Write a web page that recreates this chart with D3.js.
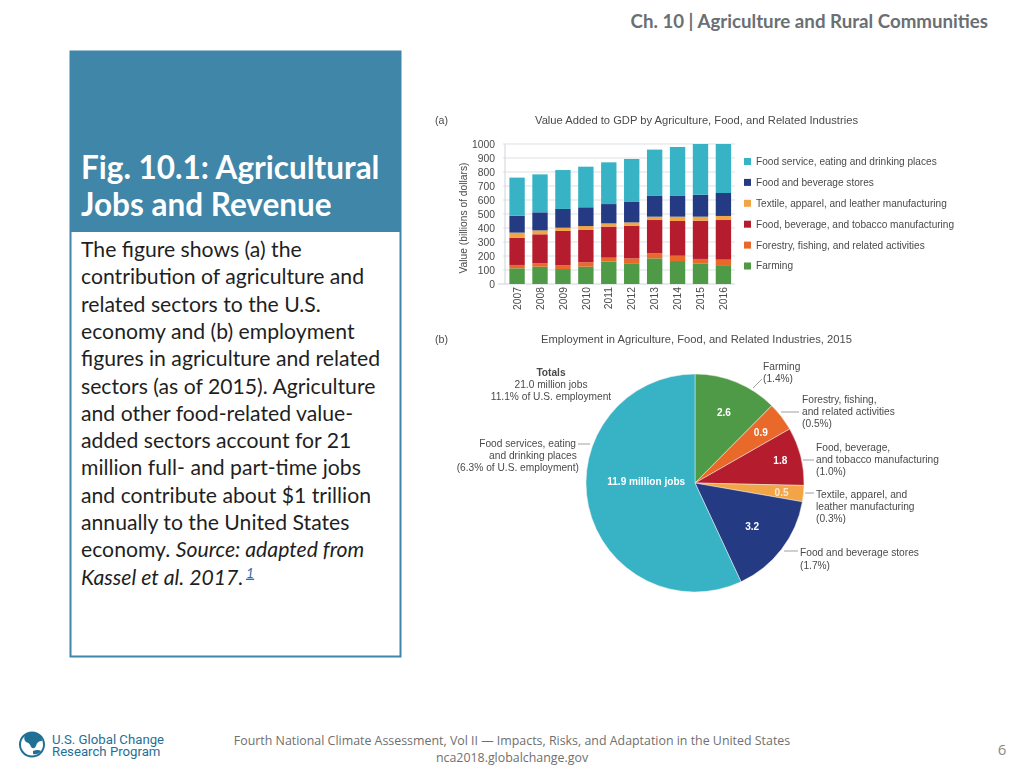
<!DOCTYPE html>
<html><head><meta charset="utf-8">
<script src="https://cdn.jsdelivr.net/npm/d3@7/dist/d3.min.js"></script>
<style>html,body{margin:0;padding:0;background:#fff;overflow:hidden}svg{display:block}
text{font-family:"Liberation Sans",Arial,sans-serif}
.slide text{font-family:Lato,"Open Sans",sans-serif}
.slide text.foot{font-family:"Open Sans",sans-serif}
</style></head><body><svg id="c" width="1024" height="768"></svg>
<script>
const years=["2007","2008","2009","2010","2011","2012","2013","2014","2015","2016"];
const farming=[112,124,107,124,160,148,183,164,145,129];
const forestry=[24,24,26,31,28,35,36,38,34,45];
const foodMfg=[195,207,246,231,222,234,238,248,273,283];
const textile=[36,28,23,28,23,23,24,31,29,29];
const stores=[121,129,134,134,138,146,148,148,157,164];
const foodService=[272,271,278,290,298,307,331,350,362,350];
const seriesNames=["Farming","Forestry, fishing, and related activities","Food, beverage, and tobacco manufacturing","Textile, apparel, and leather manufacturing","Food and beverage stores","Food service, eating and drinking places"];
const seriesColors=["#4f9a47","#e8692a","#b51c2e","#f2a546","#243a83","#38b3c6"];
const yTicks=[0,100,200,300,400,500,600,700,800,900,1000];
const pieValues=[2.6,0.9,1.8,0.5,3.2,11.9];
const pieLabels=["2.6","0.9","1.8","0.5","3.2","11.9 million jobs"];
const bodyLines=["The figure shows (a) the","contribution of agriculture and","related sectors to the U.S.","economy and (b) employment","figures in agriculture and related","sectors (as of 2015). Agriculture","and other food-related value-","added sectors account for 21","million full- and part-time jobs","and contribute about $1 trillion","annually to the United States"];

const svg=d3.select("#c");
const slide=svg.append("g").attr("class","slide");
// ---- slide frame
slide.append("text").attr("x",988).attr("y",28).attr("text-anchor","end").attr("font-size",18.7).attr("font-weight",700).attr("fill","#6a6f73").text("Ch. 10 | Agriculture and Rural Communities");
slide.append("rect").attr("x",70.5).attr("y",51.5).attr("width",330).attr("height",605).attr("fill","#fff").attr("stroke","#3f86a8").attr("stroke-width",2);
slide.append("rect").attr("x",70).attr("y",51).attr("width",331).attr("height",181).attr("fill","#3f86a8");
["Fig. 10.1: Agricultural","Jobs and Revenue"].forEach((t,i)=>slide.append("text").attr("x",81).attr("y",179+i*37).attr("font-size",31.5).attr("font-weight",700).attr("fill","#fff").text(t));
const lh=27.3,by=257;
bodyLines.forEach((t,i)=>slide.append("text").attr("x",81).attr("y",by+i*lh).attr("font-size",21.2).attr("fill","#1f1f1f").text(t));
const l12=slide.append("text").attr("x",81).attr("y",by+11*lh).attr("font-size",21.2).attr("fill","#1f1f1f");
l12.append("tspan").text("economy. ");
l12.append("tspan").attr("font-style","italic").text("Source: adapted from");
const l13=slide.append("text").attr("x",81).attr("y",by+12*lh).attr("font-size",21.2).attr("fill","#1f1f1f").attr("font-style","italic");
l13.append("tspan").text("Kassel et al. 2017.");
slide.append("text").attr("x",246).attr("y",by+12*lh-7).attr("font-size",14).attr("font-style","italic").attr("fill","#2a6fb5").attr("text-decoration","underline").text("1");
// footer
slide.append("text").attr("class","foot").attr("x",512).attr("y",745).attr("text-anchor","middle").attr("font-size",12.4).attr("fill","#6f6f6f").text("Fourth National Climate Assessment, Vol II — Impacts, Risks, and Adaptation in the United States");
slide.append("text").attr("class","foot").attr("x",512).attr("y",762).attr("text-anchor","middle").attr("font-size",12.4).attr("fill","#6f6f6f").text("nca2018.globalchange.gov");
slide.append("text").attr("class","foot").attr("x",1002).attr("y",755).attr("text-anchor","middle").attr("font-size",15).attr("fill","#8a8a8a").text("6");
// logo
const logo=svg.append("g");
logo.append("circle").attr("cx",32).attr("cy",744.5).attr("r",12).attr("fill","#fff").attr("stroke","#1f6f96").attr("stroke-width",2);
logo.append("path").attr("d","M25 735 q7 -4 13 -1 q4 3 4 7 q-5 0 -6 5 q-2 4 -5 1 q-1 -4 -5 -5 q-3 -3 -1 -7z M33 751 q5 -2 8 0 q-3 4 -8 3z").attr("fill","#1f6f96");
logo.append("text").attr("x",52).attr("y",743.5).attr("font-size",13.2).attr("style","font-family:Roboto").attr("fill","#1f6f96").text("U.S. Global Change");
logo.append("text").attr("x",52).attr("y",756).attr("font-size",13.2).attr("style","font-family:Roboto").attr("fill","#1f6f96").text("Research Program");

// ---- panel (a)
const tc="#4a4a4a";
const chart=svg.append("g").attr("style","filter:blur(0.45px)");
chart.append("text").attr("x",435).attr("y",124).attr("font-size",10.6).attr("fill",tc).text("(a)");
chart.append("text").attr("x",535).attr("y",124).attr("font-size",11.2).attr("fill",tc).text("Value Added to GDP by Agriculture, Food, and Related Industries");
const x=d3.scaleBand().domain(years).range([505.5,735]).paddingInner(0.33).paddingOuter(0.17);
const y=d3.scaleLinear().domain([0,1000]).range([284,144]);
const rows=years.map((yr,i)=>({yr,s0:farming[i],s1:forestry[i],s2:foodMfg[i],s3:textile[i],s4:stores[i],s5:foodService[i]}));
const stack=d3.stack().keys(["s0","s1","s2","s3","s4","s5"])(rows);
const gy=chart.append("g").attr("transform","translate(505,0)").call(d3.axisLeft(y).tickValues(yTicks).tickSize(0).tickFormat(d3.format("d")).tickPadding(10));
gy.select(".domain").remove();
gy.selectAll("text").attr("font-size",10.3).attr("fill",tc).attr("style","font-family:'Liberation Sans'");
chart.append("g").selectAll("line").data(yTicks).join("line").attr("x1",d=>d===0?498:503).attr("x2",735).attr("y1",d=>y(d)).attr("y2",d=>y(d)).attr("stroke","#cdd4da").attr("stroke-width",d=>d===0?1:0.7);
chart.append("line").attr("x1",505).attr("x2",505).attr("y1",144).attr("y2",284).attr("stroke","#cfd5da");
chart.append("g").selectAll("g").data(stack).join("g").attr("fill",(d,i)=>seriesColors[i])
 .selectAll("rect").data(d=>d).join("rect").attr("x",d=>x(d.data.yr)).attr("width",x.bandwidth())
 .attr("y",d=>y(d[1])).attr("height",d=>y(d[0])-y(d[1]));
const gx=chart.append("g").attr("transform","translate(0,284)").call(d3.axisBottom(x).tickSize(0).tickPadding(0));
gx.select(".domain").remove();
gx.selectAll("text").attr("font-size",10.3).attr("fill",tc).attr("style","font-family:'Liberation Sans'").attr("text-anchor","end").attr("dy",0).attr("transform","translate(0,3) rotate(-90) translate(0,3.7)");
chart.append("text").attr("transform","translate(467,218) rotate(-90)").attr("text-anchor","middle").attr("font-size",10.25).attr("fill",tc).text("Value (billions of dollars)");
// legend
const legY=d3.scalePoint().domain(d3.range(6)).range([266,161.5]);
seriesNames.forEach((n,i)=>{
 chart.append("rect").attr("x",744).attr("y",legY(i)-3.5).attr("width",7).attr("height",7).attr("fill",seriesColors[i]);
 chart.append("text").attr("x",756).attr("y",legY(i)+3.4).attr("font-size",10.1).attr("fill",tc).text(n);
});

// ---- panel (b)
chart.append("text").attr("x",435).attr("y",343).attr("font-size",10.6).attr("fill",tc).text("(b)");
chart.append("text").attr("x",541).attr("y",343).attr("font-size",11.2).attr("fill",tc).text("Employment in Agriculture, Food, and Related Industries, 2015");
const cx=695,cy=483,r=109;
const pie=d3.pie().sort(null).value(d=>d)(pieValues);
const arc=d3.arc().innerRadius(0).outerRadius(r);
const gp=chart.append("g").attr("transform",`translate(${cx},${cy})`);
gp.selectAll("path").data(pie).join("path").attr("d",arc).attr("fill",(d,i)=>seriesColors[i]).attr("stroke","#f3efe6").attr("stroke-width",0.5);
const labelRadius=[76,83,88,87,72,50], labelDy=[3,3,3,5,3,-9];
gp.selectAll("text").data(pie).join("text").each(function(d,i){
  const c=d3.arc().innerRadius(labelRadius[i]).outerRadius(labelRadius[i]).centroid(d);
  d3.select(this).attr("x",c[0]).attr("y",c[1]+labelDy[i]);
}).attr("text-anchor","middle").attr("font-size",10.1).attr("font-weight",700).attr("fill","#fff").attr("fill-opacity",(d,i)=>i===3?0.75:1).text((d,i)=>pieLabels[i]);
function block(x0,y0,lines,anchor,dy,bold){lines.forEach((t,i)=>chart.append("text").attr("x",x0).attr("y",y0+i*dy).attr("text-anchor",anchor||"start").attr("font-size",10.2).attr("font-weight",bold&&i===0?700:400).attr("fill",tc).text(t));}
block(763,370,["Farming","(1.4%)"],"start",12);
block(802,403,["Forestry, fishing,","and related activities","(0.5%)"],"start",12);
block(816,451,["Food, beverage,","and tobacco manufacturing","(1.0%)"],"start",12);
block(816,497.5,["Textile, apparel, and","leather manufacturing","(0.3%)"],"start",12);
block(800,556,["Food and beverage stores","(1.7%)"],"start",12.5);
block(551,376,["Totals","21.0 million jobs","11.1% of U.S. employment"],"middle",12,true);
block(576,447,["Food services, eating"],"end",12);
block(533,459,["and drinking places"],"middle",12);
block(579,471,["(6.3% of U.S. employment)"],"end",12);
const leaders=[[753,388,762,379],[781,412,799,412],[803,460,814,460],[805,493,814,493],[784,551,798,551],[578,444,590,444]];
chart.append("g").selectAll("line").data(leaders).join("line").attr("x1",d=>d[0]).attr("y1",d=>d[1]).attr("x2",d=>d[2]).attr("y2",d=>d[3]).attr("stroke","#777").attr("stroke-width",0.7);
</script></body></html>
